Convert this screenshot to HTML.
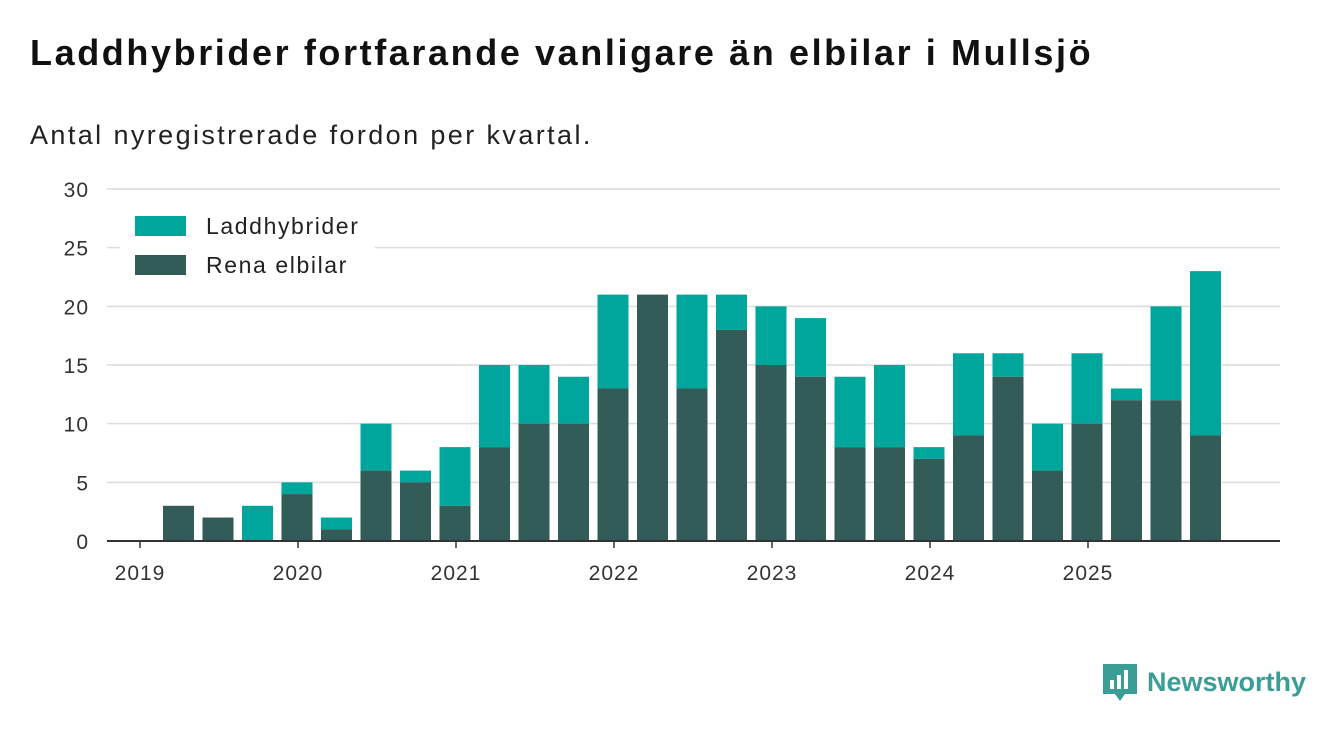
<!DOCTYPE html>
<html><head><meta charset="utf-8">
<style>
body{margin:0;background:#fff;font-family:"Liberation Sans",sans-serif;}
#wrap{position:relative;width:1340px;height:733px;overflow:hidden;}
h1{position:absolute;left:30px;top:32px;margin:0;font-size:36px;letter-spacing:2.6px;font-weight:bold;color:#111;white-space:nowrap;}
.sub{position:absolute;left:30px;top:120px;font-size:27px;letter-spacing:2.4px;color:#222;white-space:nowrap;}
</style></head><body>
<div id="wrap">
<h1>Laddhybrider fortfarande vanligare än elbilar i Mullsjö</h1>
<div class="sub">Antal nyregistrerade fordon per kvartal.</div>
<svg id="chart" width="1340" height="733" style="position:absolute;left:0;top:0"></svg>
<div style="position:absolute;left:1103px;top:662px;display:flex;align-items:center;">
<svg width="34" height="40"><path d="M0 2h34v30H22l-5 7-5-7H0z" fill="#3a9d96"/><rect x="7" y="18" width="4" height="9" fill="#fff"/><rect x="14" y="13" width="4" height="14" fill="#fff"/><rect x="21" y="8" width="4" height="19" fill="#fff"/></svg>
<span style="font-size:27px;font-weight:bold;color:#3a9d96;margin-left:10px">Newsworthy</span>
</div>
</div>
<script>
const years=["2019","2020","2021","2022","2023","2024","2025"];
const yTicks=[0,5,10,15,20,25,30];
const elbilar=[0,3,2,0, 4,1,6,5, 3,8,10,10, 13,21,13,18, 15,14,8,8, 7,9,14,6, 10,12,12,9];
const totals=[0,3,2,3, 5,2,10,6, 8,15,15,14, 21,21,21,21, 20,19,14,15, 8,16,16,10, 16,13,20,23];
const NS="http://www.w3.org/2000/svg";
const svg=document.getElementById('chart');
const x0=140,yearW=158,left=107,right=1280,yBase=541,yTop=189;
const y=v=>yBase-(v/30)*(yBase-yTop);
const xq=i=>x0+i*yearW/4-1;
function mk(t,a){const e=document.createElementNS(NS,t);for(const k in a)e.setAttribute(k,a[k]);svg.appendChild(e);return e;}
yTicks.forEach(t=>{
 if(t>0){const l=mk('line',{x1:left,x2:right,y1:y(t),y2:y(t),stroke:'#dcdcdc','stroke-width':1.5});
 
 }
 const tx=mk('text',{x:89,y:y(t)+8,'text-anchor':'end','font-size':21,'letter-spacing':1,fill:'#333','font-family':'Liberation Sans, sans-serif'});
 tx.textContent=t;
 
 
});
const bw=31;
elbilar.forEach((e,i)=>{
 const cx=xq(i);
 const h=totals[i]-e;
 if(h>0){const r=mk('rect',{x:cx-bw/2,y:y(totals[i]),width:bw,height:y(e)-y(totals[i]),fill:'#00a69c'});
 
 }
 if(e>0){const r=mk('rect',{x:cx-bw/2,y:y(e),width:bw,height:yBase-y(e),fill:'#335c59'});
 
 }
});
const ax=mk('line',{x1:left,x2:right,y1:yBase,y2:yBase,stroke:'#333','stroke-width':2});


years.forEach((yr,i)=>{
 const cx=x0+i*yearW;
 const tk=mk('line',{x1:cx,x2:cx,y1:yBase,y2:yBase+7,stroke:'#333','stroke-width':1.5});
 
 
 const tx=mk('text',{x:cx,y:580,'text-anchor':'middle','font-size':21,'letter-spacing':1,fill:'#333','font-family':'Liberation Sans, sans-serif'});
 tx.textContent=yr;
 
 
});
const lg=mk('rect',{x:120,y:206,width:255,height:82,fill:'#fff'});


[["Laddhybrider","#00a69c",216],["Rena elbilar","#335c59",255]].forEach(([n,c,yy])=>{
 const r=mk('rect',{x:135,y:yy,width:51,height:20,fill:c});
 
 
 const t=mk('text',{x:206,y:yy+18,'font-size':23,'letter-spacing':1.6,fill:'#222','font-family':'Liberation Sans, sans-serif'});
 t.textContent=n;
 
 
});
</script>
</body></html>
